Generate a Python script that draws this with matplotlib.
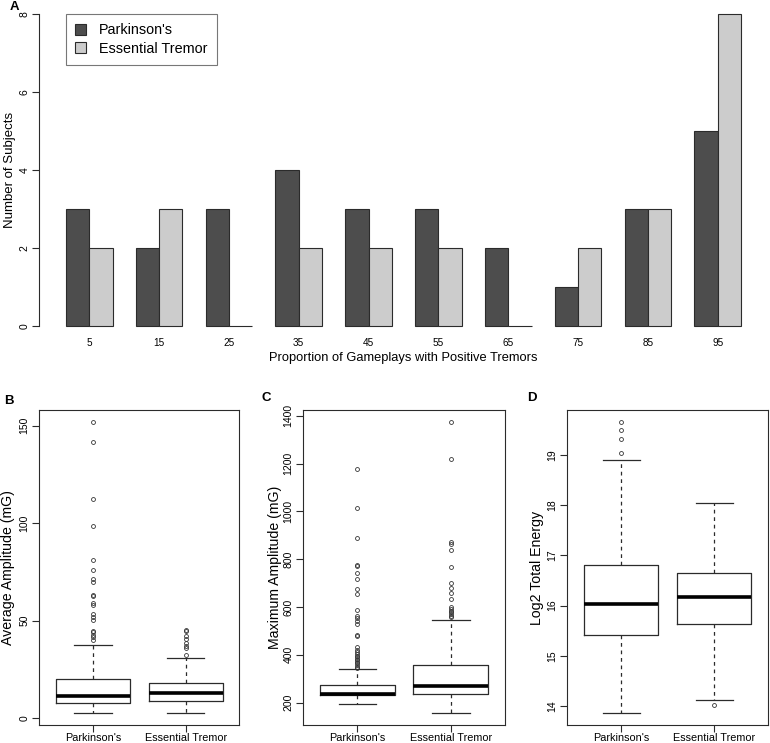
import matplotlib
matplotlib.use("Agg")
import matplotlib.pyplot as plt
from matplotlib.patches import Patch

plt.rcParams["font.family"] = ["Liberation Sans", "DejaVu Sans"]

W, H = 770, 743

# panel A: subjects per bin
bins = [5, 15, 25, 35, 45, 55, 65, 75, 85, 95]
pd_counts = [3, 2, 3, 4, 3, 3, 2, 1, 3, 5]
et_counts = [2, 3, 0, 2, 2, 2, 0, 2, 3, 8]
groups = ["Parkinson's", "Essential Tremor"]

# boxplot summaries: whislo, q1, median, q3, whishi
avg_pd = [2.9, 7.6, 11.4, 20.1, 37.4]
avg_pd_out = [151.9, 141.8, 112.4, 98.7, 81.2, 76.0, 71.1, 69.9, 63.0, 62.4,
              59.0, 58.2, 53.6, 51.9, 50.5, 44.9, 44.2, 42.5, 41.5, 40.3]
avg_et = [2.6, 8.7, 12.9, 18.0, 31.0]
avg_et_out = [32.3, 36.1, 37.2, 38.6, 40.6, 42.3, 44.6, 45.4]

max_pd = [194, 232, 236, 272, 339]
max_pd_out = [1178, 1014, 888, 776, 772, 742, 716, 677, 653, 589, 562, 552, 542,
              527, 481, 478, 431, 420, 410, 403, 396, 389, 384, 378, 371, 364,
              357, 350, 343]
max_et = [155, 235, 270, 357, 545]
max_et_out = [1375, 1219, 872, 862, 837, 768, 702, 681, 660, 633, 601, 591, 584,
              577, 570, 562, 556]

en_pd = [13.85, 15.42, 16.03, 16.81, 18.9]
en_pd_out = [19.05, 19.33, 19.51, 19.67]
en_et = [14.12, 15.63, 16.17, 16.65, 18.05]
en_et_out = [14.01]

DARK = "#4d4d4d"
LIGHT = "#cccccc"
LINE = "#2b2b2b"


def px_axes(fig, left, top, right, bottom):
    return fig.add_axes([left / W, 1 - bottom / H, (right - left) / W, (bottom - top) / H])


def rotate_yticks(ax):
    ax.tick_params(axis="y", labelrotation=90)
    for t in ax.get_yticklabels():
        t.set_verticalalignment("center")


def stats(s, fliers):
    return {"whislo": s[0], "q1": s[1], "med": s[2], "q3": s[3], "whishi": s[4], "fliers": fliers}


fig = plt.figure(figsize=(W / 100, H / 100), dpi=100)

# ---- A ----
ax = px_axes(fig, 39, 1.5, 768, 338.5)
idx = range(len(bins))
ax.bar([3 * i + 1.5 for i in idx], pd_counts, width=1.0, color=DARK, edgecolor=LINE, linewidth=0.8)
ax.bar([3 * i + 2.5 for i in idx], et_counts, width=1.0, color=LIGHT, edgecolor=LINE, linewidth=0.8)
ax.set_xlim(-0.16, 31.16)
ax.set_ylim(-0.32, 8.32)
for s in ["top", "right", "bottom"]:
    ax.spines[s].set_visible(False)
ax.spines["left"].set_bounds(0, 8)
ax.spines["left"].set_color(LINE)
ax.spines["left"].set_linewidth(0.8)
ax.set_yticks([0, 2, 4, 6, 8])
ax.tick_params(axis="y", length=5, width=0.8, color=LINE, labelsize=7.5, pad=2)
rotate_yticks(ax)
ax.set_xticks([3 * i + 2 for i in idx])
ax.set_xticklabels([str(b) for b in bins], fontsize=7.2)
ax.tick_params(axis="x", length=0, pad=0)
ax.set_xlabel("Proportion of Gameplays with Positive Tremors", fontsize=9.3)
ax.xaxis.label.set_va("center")
ax.xaxis.set_label_coords(0.5, (338.5 - 357.5) / 337)
ax.set_ylabel("Number of Subjects", fontsize=9.5)
ax.yaxis.label.set_va("center")
ax.yaxis.set_label_coords((10 - 39) / 729, 0.5)
handles = [Patch(facecolor=DARK, edgecolor=LINE, linewidth=0.8),
           Patch(facecolor=LIGHT, edgecolor=LINE, linewidth=0.8)]
leg = fig.legend(handles, groups, loc="upper left", bbox_to_anchor=(66 / W, 1 - 14 / H),
                 fontsize=10.4, frameon=True, fancybox=False, edgecolor="#555555",
                 handlelength=0.75, handleheight=0.75, handletextpad=0.9,
                 borderpad=0.65, labelspacing=0.3, borderaxespad=0)
leg.get_frame().set_linewidth(0.8)


def box_panel(left, right, pd_s, pd_o, et_s, et_o, ylim, yticks, ylabel, label_x):
    ax = px_axes(fig, left, 410, right, 725)
    bxp_stats = [stats(pd_s, pd_o), stats(et_s, et_o)]
    ax.bxp(bxp_stats, positions=[1, 2], widths=0.8, capwidths=0.4, showfliers=True,
           boxprops=dict(color=LINE, linewidth=0.9),
           medianprops=dict(color="black", linewidth=2.6, solid_capstyle="butt"),
           whiskerprops=dict(color=LINE, linewidth=0.9, linestyle=(0, (3, 3))),
           capprops=dict(color=LINE, linewidth=0.9),
           flierprops=dict(marker="o", markersize=2.8, markerfacecolor="none",
                           markeredgecolor="#333333", markeredgewidth=0.6))
    ax.set_xlim(0.42, 2.58)
    ax.set_ylim(*ylim)
    ax.set_yticks(yticks)
    for s in ax.spines.values():
        s.set_color(LINE)
        s.set_linewidth(0.8)
    ax.tick_params(axis="both", length=5, width=0.8, color=LINE)
    ax.tick_params(axis="y", labelsize=7.5, pad=2)
    rotate_yticks(ax)
    ax.set_xticks([1, 2])
    ax.set_xticklabels(groups, fontsize=7.8)
    ax.tick_params(axis="x", pad=1)
    ax.set_ylabel(ylabel, fontsize=10.2)
    ax.yaxis.label.set_va("center")
    ax.yaxis.set_label_coords((label_x - left) / (right - left), 0.5)
    return ax


box_panel(39.3, 239.3, avg_pd, avg_pd_out, avg_et, avg_et_out, (-3.5, 158),
          [0, 50, 100, 150], "Average Amplitude (mG)", 8)
box_panel(303.3, 505, max_pd, max_pd_out, max_et, max_et_out, (106, 1424),
          [200, 400, 600, 800, 1000, 1200, 1400], "Maximum Amplitude (mG)", 274.5)
box_panel(567.3, 768, en_pd, en_pd_out, en_et, en_et_out, (13.62, 19.9),
          [14, 15, 16, 17, 18, 19], "Log2 Total Energy", 537.5)

for letter, x, y in [("A", 14, 7), ("B", 9, 401), ("C", 266, 398), ("D", 532, 398)]:
    fig.text(x / W, 1 - y / H, letter, fontsize=9.5, fontweight="bold", ha="center", va="center")

fig.savefig("out.png", dpi=100)
